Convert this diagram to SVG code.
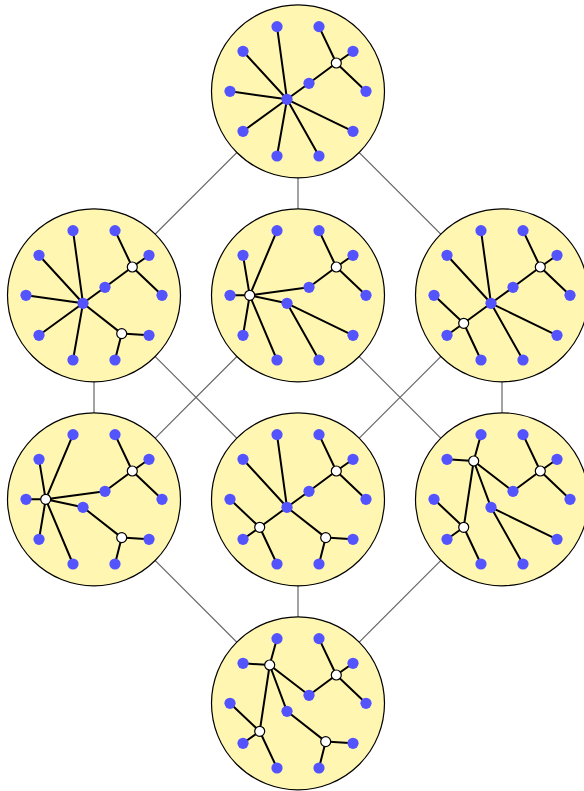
<svg xmlns="http://www.w3.org/2000/svg" width="584" height="791" viewBox="0 0 584 791">
<style>
.bg{fill:#fff6b2;stroke:#000;stroke-width:1.2}
.conn{stroke:#666;stroke-width:1.2;fill:none}
.e{stroke:#000;stroke-width:2;fill:none;stroke-linecap:round}
.b{fill:#5454ff}
.w{fill:#fff;stroke:#000;stroke-width:1.2}
</style>
<defs>
<g id="blues">
<circle class="b" cx="68" cy="0" r="5.6"/>
<circle class="b" cx="55" cy="40" r="5.6"/>
<circle class="b" cx="21" cy="64.7" r="5.6"/>
<circle class="b" cx="-21" cy="64.7" r="5.6"/>
<circle class="b" cx="-55" cy="40" r="5.6"/>
<circle class="b" cx="-68" cy="0" r="5.6"/>
<circle class="b" cx="-55" cy="-40" r="5.6"/>
<circle class="b" cx="-21" cy="-64.7" r="5.6"/>
<circle class="b" cx="21" cy="-64.7" r="5.6"/>
<circle class="b" cx="55" cy="-40" r="5.6"/>
<circle class="b" cx="11" cy="-8" r="5.6"/>
<circle class="b" cx="-11" cy="8" r="5.6"/>
</g>
<path id="eWa" class="e" d="M11,-8L38.3,-28.3M38.3,-28.3L21,-64.7M38.3,-28.3L55,-40M38.3,-28.3L68,0"/>
<circle id="Wa" class="w" cx="38.3" cy="-28.3" r="5"/>
<circle id="Wb" class="w" cx="27.7" cy="38.3" r="5"/>
<circle id="Wc" class="w" cx="-48.3" cy="0" r="5"/>
<circle id="Wd" class="w" cx="-38.3" cy="28" r="5"/>
<circle id="We" class="w" cx="-28.3" cy="-38.3" r="5"/>
</defs>
<g id="connectors">
<line class="conn" x1="298" y1="91.3" x2="94" y2="295.3"/>
<line class="conn" x1="298" y1="91.3" x2="298" y2="295.3"/>
<line class="conn" x1="298" y1="91.3" x2="502" y2="295.3"/>
<line class="conn" x1="94" y1="295.3" x2="94" y2="499.3"/>
<line class="conn" x1="94" y1="295.3" x2="298" y2="499.3"/>
<line class="conn" x1="298" y1="295.3" x2="94" y2="499.3"/>
<line class="conn" x1="298" y1="295.3" x2="502" y2="499.3"/>
<line class="conn" x1="502" y1="295.3" x2="298" y2="499.3"/>
<line class="conn" x1="502" y1="295.3" x2="502" y2="499.3"/>
<line class="conn" x1="94" y1="499.3" x2="298" y2="703.3"/>
<line class="conn" x1="298" y1="499.3" x2="298" y2="703.3"/>
<line class="conn" x1="502" y1="499.3" x2="298" y2="703.3"/>
</g>
<g id="tree1" transform="translate(298,91.3)">
<circle class="bg" r="86.5"/>
<path class="e" d="M-11,8L-21,-64.7M-11,8L-55,-40M-11,8L-68,0M-11,8L-55,40M-11,8L-21,64.7M-11,8L21,64.7M-11,8L55,40M-11,8L11,-8"/>
<use href="#eWa"/><use href="#blues"/><use href="#Wa"/>
</g>
<g id="tree2" transform="translate(94,295.3)">
<circle class="bg" r="86.5"/>
<path class="e" d="M-11,8L-21,-64.7M-11,8L-55,-40M-11,8L-68,0M-11,8L-55,40M-11,8L-21,64.7M-11,8L11,-8M-11,8L27.7,38.3M27.7,38.3L55,40M27.7,38.3L21,64.7"/>
<use href="#eWa"/><use href="#blues"/><use href="#Wa"/><use href="#Wb"/>
</g>
<g id="tree3" transform="translate(298,295.3)">
<circle class="bg" r="86.5"/>
<path class="e" d="M-48.3,0L-21,-64.7M-48.3,0L-55,-40M-48.3,0L-68,0M-48.3,0L-55,40M-48.3,0L-21,64.7M-48.3,0L11,-8M-48.3,0L-11,8M-11,8L55,40M-11,8L21,64.7"/>
<use href="#eWa"/><use href="#blues"/><use href="#Wa"/><use href="#Wc"/>
</g>
<g id="tree4" transform="translate(502,295.3)">
<circle class="bg" r="86.5"/>
<path class="e" d="M-11,8L-55,-40M-11,8L-21,-64.7M-11,8L11,-8M-11,8L55,40M-11,8L21,64.7M-11,8L-38.3,28M-38.3,28L-68,0M-38.3,28L-55,40M-38.3,28L-21,64.7"/>
<use href="#eWa"/><use href="#blues"/><use href="#Wa"/><use href="#Wd"/>
</g>
<g id="tree5" transform="translate(94,499.3)">
<circle class="bg" r="86.5"/>
<path class="e" d="M-48.3,0L-21,-64.7M-48.3,0L-55,-40M-48.3,0L-68,0M-48.3,0L-55,40M-48.3,0L-21,64.7M-48.3,0L11,-8M-48.3,0L-11,8M-11,8L27.7,38.3M27.7,38.3L55,40M27.7,38.3L21,64.7"/>
<use href="#eWa"/><use href="#blues"/><use href="#Wa"/><use href="#Wb"/><use href="#Wc"/>
</g>
<g id="tree6" transform="translate(298,499.3)">
<circle class="bg" r="86.5"/>
<path class="e" d="M-11,8L-21,-64.7M-11,8L-55,-40M-11,8L11,-8M-11,8L-38.3,28M-11,8L27.7,38.3M-38.3,28L-68,0M-38.3,28L-55,40M-38.3,28L-21,64.7M27.7,38.3L55,40M27.7,38.3L21,64.7"/>
<use href="#eWa"/><use href="#blues"/><use href="#Wa"/><use href="#Wb"/><use href="#Wd"/>
</g>
<g id="tree7" transform="translate(502,499.3)">
<circle class="bg" r="86.5"/>
<path class="e" d="M-28.3,-38.3L-21,-64.7M-28.3,-38.3L-55,-40M-28.3,-38.3L11,-8M-28.3,-38.3L-11,8M-28.3,-38.3L-38.3,28M-38.3,28L-68,0M-38.3,28L-55,40M-38.3,28L-21,64.7M-11,8L55,40M-11,8L21,64.7"/>
<use href="#eWa"/><use href="#blues"/><use href="#Wa"/><use href="#Wd"/><use href="#We"/>
</g>
<g id="tree8" transform="translate(298,703.3)">
<circle class="bg" r="86.5"/>
<path class="e" d="M-28.3,-38.3L-21,-64.7M-28.3,-38.3L-55,-40M-28.3,-38.3L11,-8M-28.3,-38.3L-11,8M-28.3,-38.3L-38.3,28M-38.3,28L-68,0M-38.3,28L-55,40M-38.3,28L-21,64.7M-11,8L27.7,38.3M27.7,38.3L55,40M27.7,38.3L21,64.7"/>
<use href="#eWa"/><use href="#blues"/><use href="#Wa"/><use href="#Wb"/><use href="#Wd"/><use href="#We"/>
</g>
</svg>
